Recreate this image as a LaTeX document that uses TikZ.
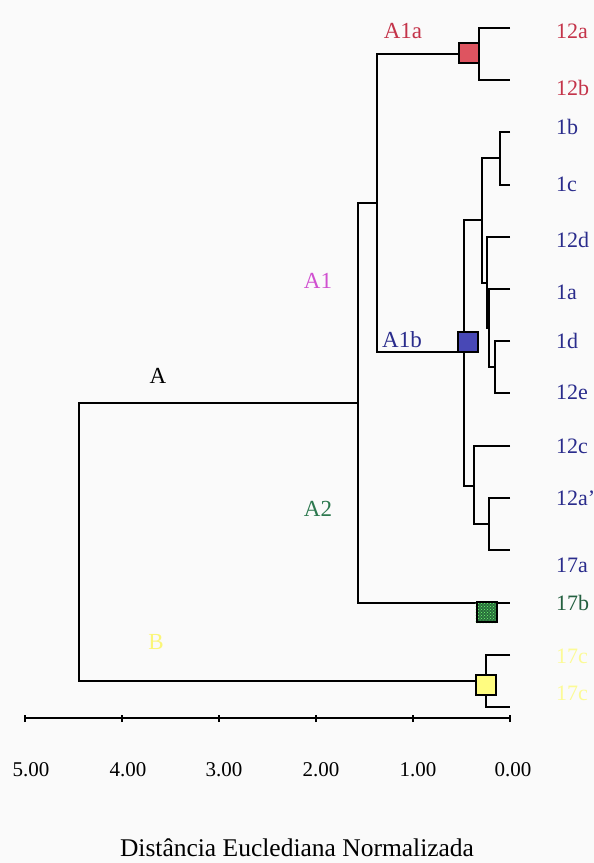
\documentclass[tikz,border=0pt]{standalone}
\usepackage{fontspec}
\setmainfont{Liberation Serif}
\usetikzlibrary{patterns}

\definecolor{clRed}{RGB}{196,52,74}
\definecolor{clBlue}{RGB}{42,44,140}
\definecolor{clGreen}{RGB}{44,120,78}
\definecolor{clDkGreen}{RGB}{36,96,64}
\definecolor{clMagenta}{RGB}{208,80,208}
\definecolor{clYellow}{RGB}{250,246,120}
\definecolor{clPaleYellow}{RGB}{252,250,150}
\definecolor{boxRed}{RGB}{222,84,96}
\definecolor{boxBlue}{RGB}{72,72,182}
\definecolor{boxGreen}{RGB}{40,110,60}
\definecolor{boxYellow}{RGB}{255,252,128}
\definecolor{paper}{RGB}{250,250,250}

\tikzset{
  branch/.style={draw=black, line width=1.3pt},
  leaflabel/.style={anchor=west, inner sep=0pt, font=\fontsize{22}{26}\selectfont},
  clusterlabel/.style={anchor=center, inner sep=0pt, font=\fontsize{23}{27}\selectfont},
  ticklabel/.style={anchor=center, inner sep=0pt, font=\fontsize{21}{25}\selectfont},
  marker/.style={draw=black, line width=2pt, minimum width=20pt, minimum height=20pt, inner sep=0pt},
}

\begin{document}
\begin{tikzpicture}[x=1pt, y=-1pt]
  % page
  \fill[paper] (0,0) rectangle (594,863);
  \useasboundingbox (0,0) rectangle (594,863);

  % leaf tips
  \coordinate (t12a)  at (510,28);
  \coordinate (t12b)  at (510,80);
  \coordinate (t1b)   at (510,132);
  \coordinate (t1c)   at (510,185);
  \coordinate (t12d)  at (510,237);
  \coordinate (t1a)   at (510,289);
  \coordinate (t1d)   at (510,341);
  \coordinate (t12e)  at (510,393);
  \coordinate (t12c)  at (510,446);
  \coordinate (t12ap) at (510,498);
  \coordinate (t17a)  at (510,550);
  \coordinate (t17b)  at (510,603);
  \coordinate (t17c)  at (510,655);
  \coordinate (t17cc) at (510,707);

  % joins
  \coordinate (j1)  at (479,54);
  \coordinate (j2)  at (500,158);
  \coordinate (j3)  at (495,367);
  \coordinate (j4)  at (489,328);
  \coordinate (j5)  at (487,283);
  \coordinate (j6)  at (482,220);
  \coordinate (j7)  at (489,524);
  \coordinate (j8)  at (474,486);
  \coordinate (j9)  at (464,352);
  \coordinate (j10) at (377,203);
  \coordinate (j11) at (358,403);
  \coordinate (j12) at (486,681);
  \coordinate (j13) at (79,542);

  % branches
  \draw[branch] (t12a) -| (j1) |- (t12b);
  \draw[branch] (t1b) -| (j2) |- (t1c);
  \draw[branch] (t1d) -| (j3) |- (t12e);
  \draw[branch] (t1a) -| (j4) |- (j3);
  \draw[branch] (t12d) -| (j5) |- (j4);
  \draw[branch] (j2) -| (j6) |- (j5);
  \draw[branch] (t12ap) -| (j7) |- (t17a);
  \draw[branch] (t12c) -| (j8) |- (j7);
  \draw[branch] (j6) -| (j9) |- (j8);
  \draw[branch] (j1) -| (j10) |- (j9);
  \draw[branch] (j10) -| (j11) |- (t17b);
  \draw[branch] (t17c) -| (j12) |- (t17cc);
  \draw[branch] (j11) -| (j13) |- (j12);

  % markers
  \node[marker, fill=boxRed] (mA1a) at (468.5,53) {};
  \node[marker, fill=boxBlue] (mA1b) at (467.5,342) {};
  \node[marker, fill=boxGreen] (mA2) at (486.5,612) {};
  \fill[pattern=crosshatch dots, pattern color=green!55!white]
    (mA2.south west) rectangle (mA2.north east);
  \node[marker, fill=none] (mA2b) at (486.5,612) {};
  \node[marker, fill=boxYellow] (mB) at (486,685) {};

  % cluster labels
  \node[clusterlabel, text=clRed]     (lA1a) at (403,31)  {A1a};
  \node[clusterlabel, text=clMagenta] (lA1)  at (318,281) {A1};
  \node[clusterlabel, text=clBlue]    (lA1b) at (402,340) {A1b};
  \node[clusterlabel, text=black]     (lA)   at (158,376) {A};
  \node[clusterlabel, text=clGreen]   (lA2)  at (318,509) {A2};
  \node[clusterlabel, text=clYellow]  (lB)   at (156,642) {B};

  % leaf labels
  \node[leaflabel, text=clRed]       (n12a)  at (556,31)  {12a};
  \node[leaflabel, text=clRed]       (n12b)  at (556,88)  {12b};
  \node[leaflabel, text=clBlue]      (n1b)   at (556,127) {1b};
  \node[leaflabel, text=clBlue]      (n1c)   at (556,184) {1c};
  \node[leaflabel, text=clBlue]      (n12d)  at (556,240) {12d};
  \node[leaflabel, text=clBlue]      (n1a)   at (556,292) {1a};
  \node[leaflabel, text=clBlue]      (n1d)   at (556,341) {1d};
  \node[leaflabel, text=clBlue]      (n12e)  at (556,392) {12e};
  \node[leaflabel, text=clBlue]      (n12c)  at (556,446) {12c};
  \node[leaflabel, text=clBlue]      (n12ap) at (556,498) {12a'};
  \node[leaflabel, text=clBlue]      (n17a)  at (556,565) {17a};
  \node[leaflabel, text=clDkGreen]   (n17b)  at (556,603) {17b};
  \node[leaflabel, text=clPaleYellow] (n17c)  at (556,656) {17c};
  \node[leaflabel, text=clPaleYellow] (n17cc) at (556,693) {17c};

  % distance axis
  \coordinate (a5) at (25,718);
  \coordinate (a4) at (122,718);
  \coordinate (a3) at (219,718);
  \coordinate (a2) at (316,718);
  \coordinate (a1) at (413,718);
  \coordinate (a0) at (510,718);
  \draw[branch] (a5) -- (a0);
  \foreach \p in {a5,a4,a3,a2,a1,a0}
    \draw[line width=1.3pt] ([yshift=-4pt]\p) -- ([yshift=3pt]\p);

  \node[ticklabel] (v5) at (31,770)  {5.00};
  \node[ticklabel] (v4) at (128,770) {4.00};
  \node[ticklabel] (v3) at (224,770) {3.00};
  \node[ticklabel] (v2) at (321,770) {2.00};
  \node[ticklabel] (v1) at (418,770) {1.00};
  \node[ticklabel] (v0) at (513,770) {0.00};

  \node[anchor=center, inner sep=0pt, font=\fontsize{25.5}{29}\selectfont]
    (title) at (297,848) {Distância Euclediana Normalizada};
\end{tikzpicture}
\end{document}
